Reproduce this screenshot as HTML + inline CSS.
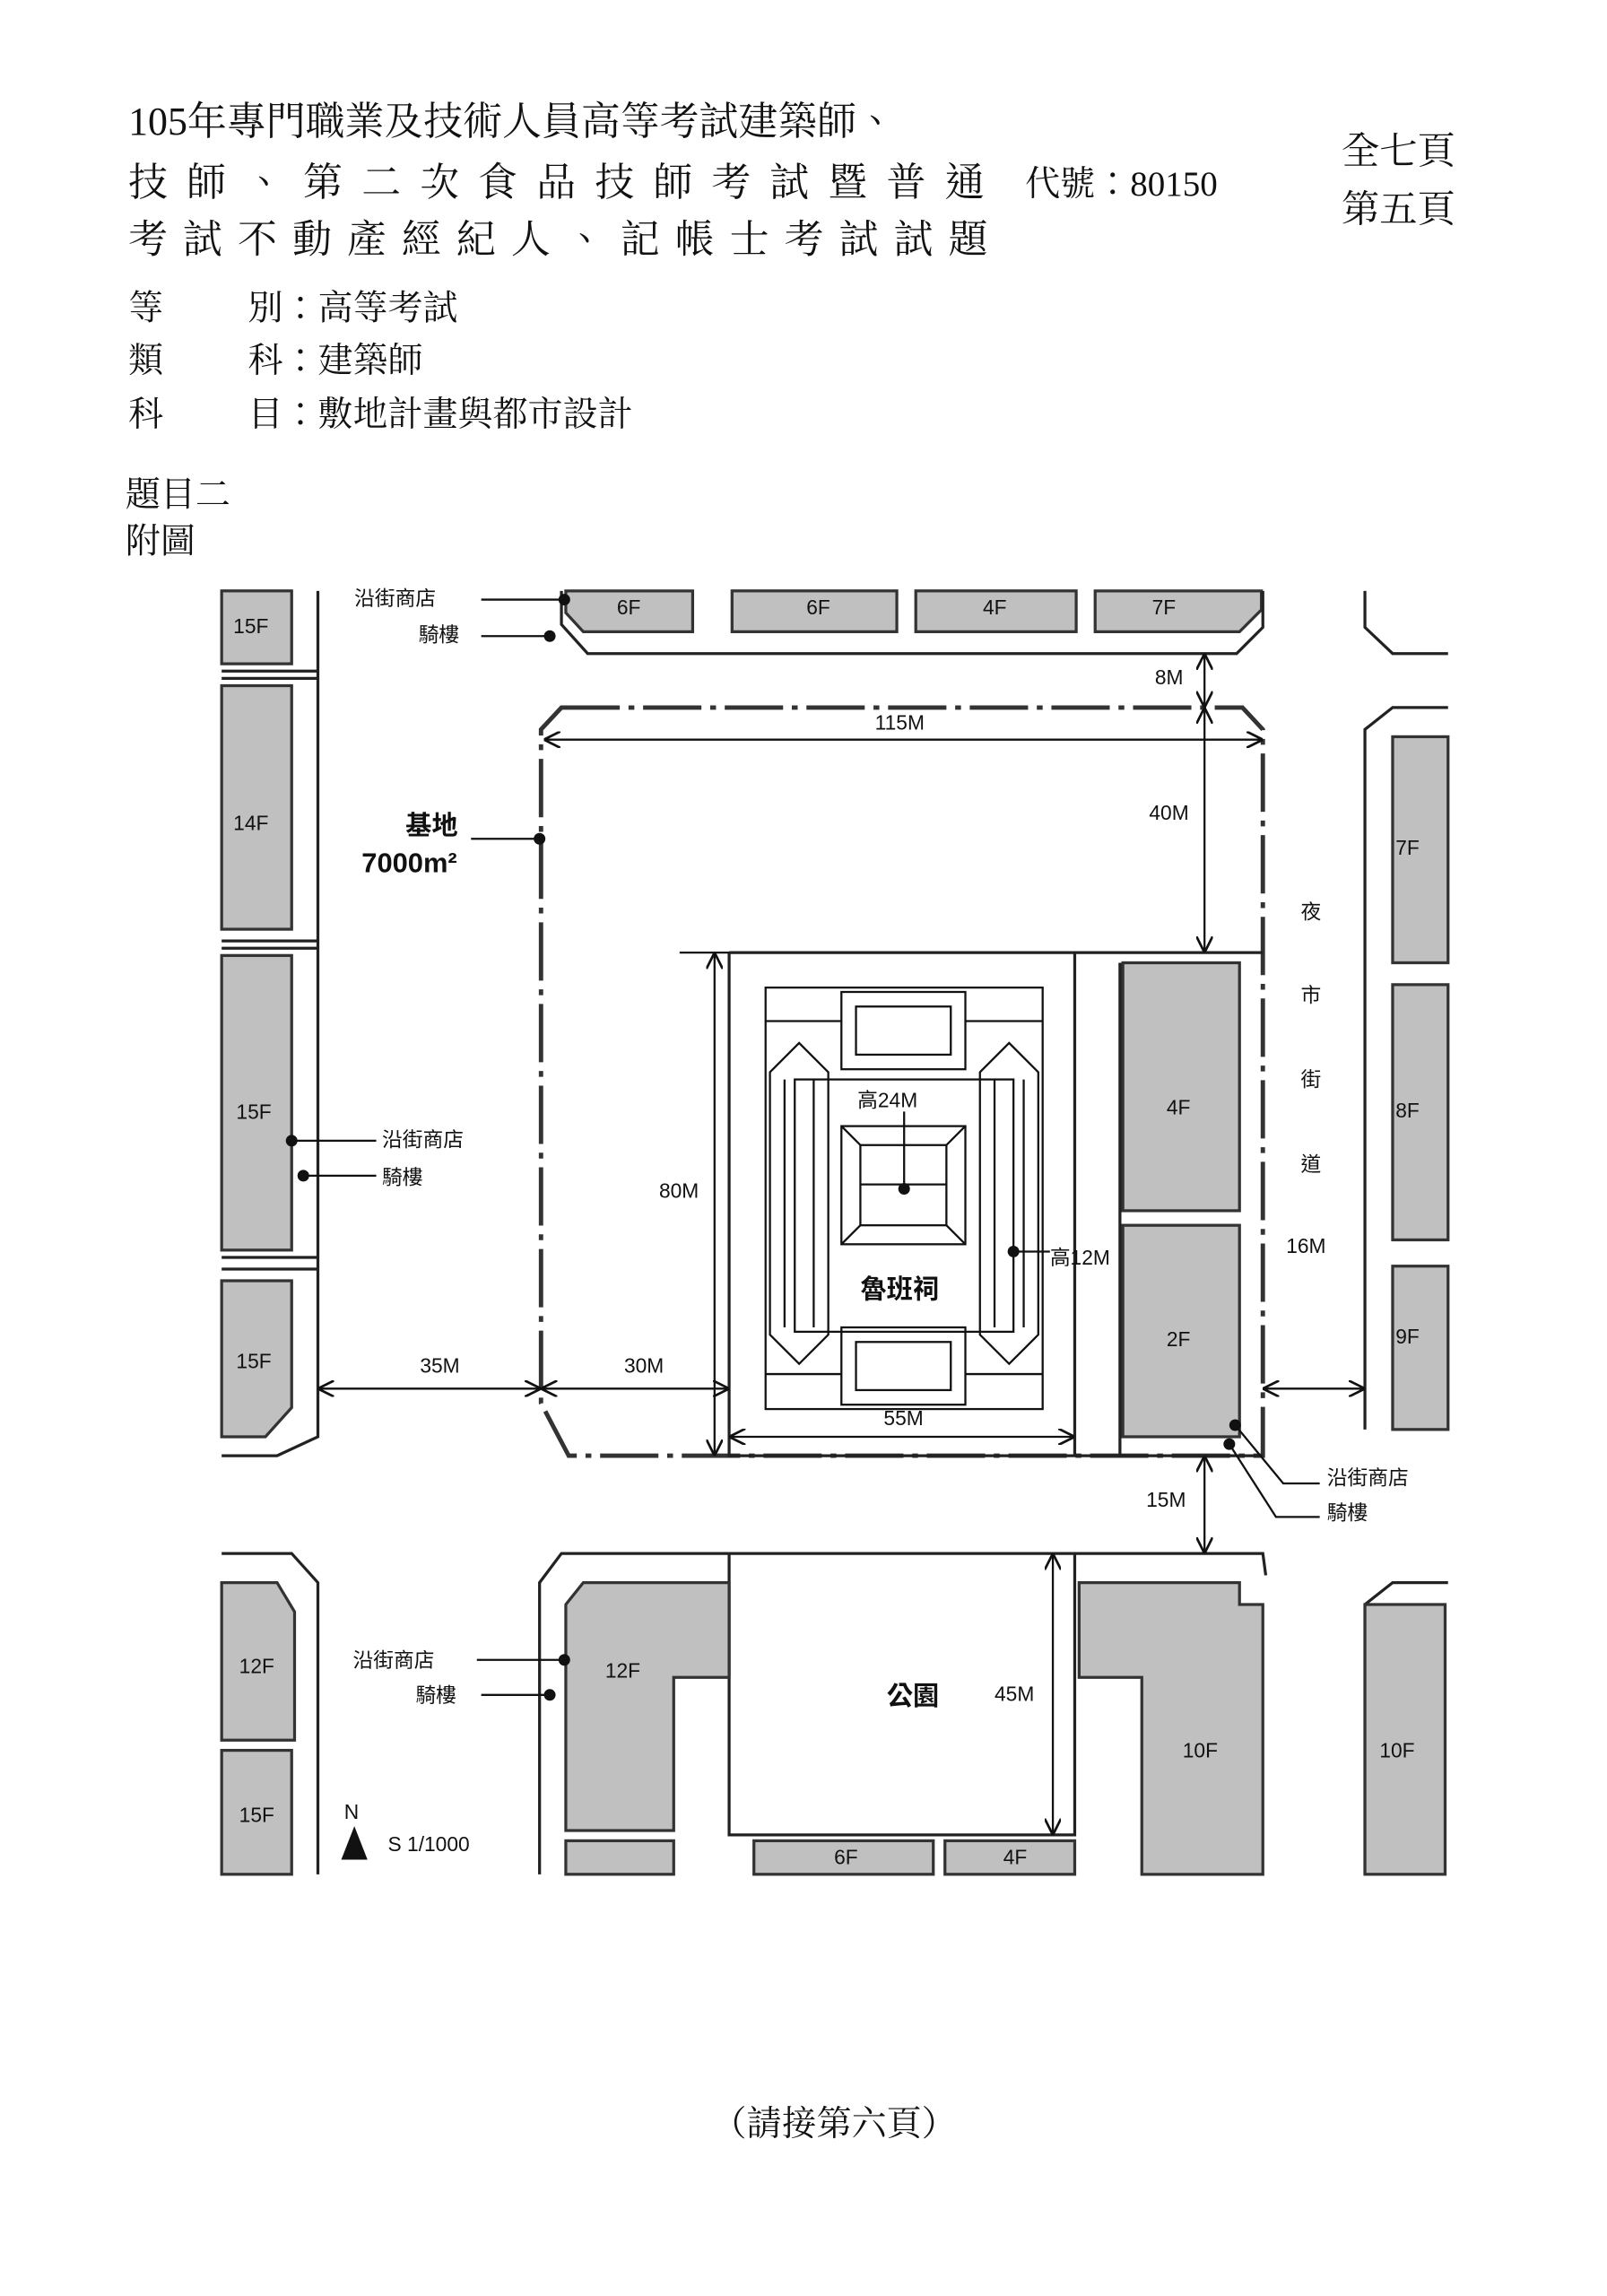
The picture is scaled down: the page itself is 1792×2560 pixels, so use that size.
<!DOCTYPE html>
<html><head><meta charset="utf-8"><style>
html,body{margin:0;padding:0;background:#fff;}
svg{display:block;}
text{font-family:"Liberation Serif","Noto Serif CJK TC","Noto Serif CJK SC",serif;fill:#111;}
.s text{font-family:"Liberation Sans","Noto Sans CJK TC",sans-serif;font-size:14px;}
.s text.b{font-weight:bold;}
.g{fill:#c0c0c0;stroke:#333;stroke-width:2;}
.l{fill:none;stroke:#222;stroke-width:2;}
.d{fill:none;stroke:#333;stroke-width:3;stroke-dasharray:40 6 4 6;}
.t{fill:none;stroke:#111;stroke-width:1.4;}
</style></head><body>
<svg width="1792" height="2560" viewBox="0 0 1102 1574" xmlns="http://www.w3.org/2000/svg">
<defs><marker id="a" viewBox="0 0 10 10" refX="10" refY="5" markerWidth="8" markerHeight="8" orient="auto-start-reverse"><path d="M0,0 L10,5 L0,10" fill="none" stroke="#111" stroke-width="1.5"/></marker></defs>
<g style="font-size:27px">
<text x="88" y="92">105年專門職業及技術人員高等考試建築師、</text>
<text x="88" y="134" letter-spacing="13">技師、第二次食品技師考試暨普通</text>
<text x="703" y="134" style="font-size:24px">代號：80150</text>
<text x="88" y="173" letter-spacing="10.5">考試不動產經紀人、記帳士考試試題</text>
<text x="920" y="112" style="font-size:26px">全七頁</text>
<text x="920" y="152" style="font-size:26px">第五頁</text>
</g>
<g style="font-size:24px">
<text x="88" y="219">等</text><text x="170" y="219">別：高等考試</text>
<text x="88" y="255">類</text><text x="170" y="255">科：建築師</text>
<text x="88" y="292">科</text><text x="170" y="292">目：敷地計畫與都市設計</text>
<text x="86" y="347">題目二</text>
<text x="86" y="379">附圖</text>
<text x="488" y="1464">（請接第六頁）</text>
</g>
<!-- left column buildings -->
<rect class="g" x="152" y="405" width="48" height="50"/>
<rect class="g" x="152" y="470" width="48" height="167"/>
<rect class="g" x="152" y="655" width="48" height="202"/>
<path class="g" d="M152,878 H200 V965 L182,985 H152 Z"/>
<path class="l" d="M218,405 V985 L190,998 H152"/>
<path class="l" d="M152,460 H218 M152,465 H218 M152,645 H218 M152,650 H218 M152,862 H218 M152,870 H218"/>
<!-- top row -->
<path class="g" d="M388,405 H475 V433 H400 L388,420 Z"/>
<rect class="g" x="502" y="405" width="113" height="28"/>
<rect class="g" x="628" y="405" width="110" height="28"/>
<path class="g" d="M751,405 H865 V418 L850,433 H751 Z"/>
<path class="l" d="M385,405 V428 L403,448 H848 L866,430 V405"/>
<path class="l" d="M936,405 V430 L955,448 H993"/>
<!-- site -->
<path class="d" d="M385,485 H852 L866,500 V998 H500 H390 L371,962 V500 Z"/>
<path class="l" d="M500,653 H866 M500,653 V998 H866 M737,653 V998 M768,660 V998"/>
<rect class="g" x="770" y="660" width="80" height="170"/>
<rect class="g" x="770" y="840" width="80" height="145"/>
<!-- temple -->
<g class="t">
<rect x="525" y="677" width="190" height="289"/>
<rect x="545" y="740" width="150" height="173"/>
<rect x="577" y="680" width="85" height="53"/><rect x="587" y="690" width="65" height="33"/>
<rect x="577" y="910" width="85" height="53"/><rect x="587" y="920" width="65" height="33"/>
<path d="M528,735 L548,715 L568,735 V915 L548,935 L528,915 Z M538,740 V910 M558,740 V910"/>
<path d="M672,735 L692,715 L712,735 V915 L692,935 L672,915 Z M682,740 V910 M702,740 V910"/>
<rect x="577" y="772" width="85" height="81"/><rect x="590" y="785" width="59" height="55"/>
<path d="M577,772 L590,785 M662,772 L649,785 M577,853 L590,840 M662,853 L649,840 M590,812 H649 M525,700 H577 M662,700 H715 M525,942 H577 M662,942 H715"/>
</g>
<!-- right column -->
<path class="l" d="M936,1285 V1100 L955,1085 H993 M936,980 V500 L955,485 H993"/>
<rect class="g" x="955" y="505" width="38" height="155"/>
<rect class="g" x="955" y="675" width="38" height="175"/>
<rect class="g" x="955" y="868" width="38" height="112"/>
<rect class="g" x="936" y="1100" width="55" height="185"/>
<!-- bottom row -->
<path class="l" d="M152,1065 H200 L218,1085 V1285"/>
<path class="g" d="M152,1085 H190 L202,1105 V1193 H152 Z"/>
<rect class="g" x="152" y="1200" width="48" height="85"/>
<path class="l" d="M370,1285 V1085 L385,1065 H866 L868,1080 M500,1065 V1258 H737 V1065"/>
<path class="g" d="M388,1100 L400,1085 H500 V1150 H462 V1255 H388 Z"/>
<rect class="g" x="388" y="1262" width="74" height="23"/>
<rect class="g" x="517" y="1262" width="123" height="23"/>
<rect class="g" x="648" y="1262" width="89" height="23"/>
<path class="g" d="M740,1085 H850 V1100 H866 V1285 H783 V1150 H740 Z"/>
<!-- dimensions -->
<g class="t">
<line x1="373" y1="507" x2="866" y2="507" marker-start="url(#a)" marker-end="url(#a)"/>
<line x1="826" y1="448" x2="826" y2="485" marker-start="url(#a)" marker-end="url(#a)"/>
<line x1="826" y1="485" x2="826" y2="653" marker-start="url(#a)" marker-end="url(#a)"/>
<line x1="490" y1="653" x2="490" y2="998" marker-start="url(#a)" marker-end="url(#a)"/>
<line x1="466" y1="653" x2="500" y2="653"/>
<line x1="218" y1="952" x2="371" y2="952" marker-start="url(#a)" marker-end="url(#a)"/>
<line x1="371" y1="952" x2="500" y2="952" marker-start="url(#a)" marker-end="url(#a)"/>
<line x1="500" y1="985" x2="737" y2="985" marker-start="url(#a)" marker-end="url(#a)"/>
<line x1="866" y1="952" x2="936" y2="952" marker-start="url(#a)" marker-end="url(#a)"/>
<line x1="826" y1="998" x2="826" y2="1065" marker-start="url(#a)" marker-end="url(#a)"/>
<line x1="722" y1="1065" x2="722" y2="1258" marker-start="url(#a)" marker-end="url(#a)"/>
<line x1="330" y1="411" x2="387" y2="411"/><line x1="330" y1="436" x2="377" y2="436"/>
<line x1="200" y1="782" x2="258" y2="782"/><line x1="208" y1="806" x2="258" y2="806"/>
<line x1="323" y1="575" x2="370" y2="575"/>
<line x1="620" y1="762" x2="620" y2="815"/><line x1="695" y1="858" x2="720" y2="858"/>
<path d="M847,977 L880,1017 H905 M843,990 L875,1040 H905"/>
<line x1="327" y1="1138" x2="387" y2="1138"/><line x1="330" y1="1162" x2="377" y2="1162"/>
</g>
<g fill="#111">
<circle cx="387" cy="411" r="4"/><circle cx="377" cy="436" r="4"/>
<circle cx="200" cy="782" r="4"/><circle cx="208" cy="806" r="4"/>
<circle cx="370" cy="575" r="4"/><circle cx="620" cy="815" r="4"/><circle cx="695" cy="858" r="4"/>
<circle cx="847" cy="977" r="4"/><circle cx="843" cy="990" r="4"/>
<circle cx="387" cy="1138" r="4"/><circle cx="377" cy="1162" r="4"/>
<path d="M234,1275 L243,1252 L252,1275 Z"/>
</g>
<g class="s">
<text x="160" y="434">15F</text><text x="160" y="569">14F</text><text x="162" y="767">15F</text><text x="162" y="938">15F</text>
<text x="423" y="421">6F</text><text x="553" y="421">6F</text><text x="674" y="421">4F</text><text x="790" y="421">7F</text>
<text x="800" y="764">4F</text><text x="800" y="923">2F</text>
<text x="957" y="586">7F</text><text x="957" y="766">8F</text><text x="957" y="921">9F</text>
<text x="164" y="1147">12F</text><text x="164" y="1249">15F</text><text x="415" y="1150">12F</text>
<text x="811" y="1205">10F</text><text x="946" y="1205">10F</text>
<text x="572" y="1278">6F</text><text x="688" y="1278">4F</text>
<text x="600" y="500">115M</text><text x="792" y="469">8M</text><text x="788" y="562">40M</text>
<text x="452" y="821">80M</text><text x="288" y="941">35M</text><text x="428" y="941">30M</text>
<text x="606" y="977">55M</text><text x="882" y="859">16M</text><text x="786" y="1033">15M</text><text x="682" y="1166">45M</text>
<text x="588" y="759">高24M</text><text x="720" y="867">高12M</text>
<text x="243" y="415">沿街商店</text><text x="287" y="440">騎樓</text>
<text x="262" y="786">沿街商店</text><text x="262" y="812">騎樓</text>
<text x="910" y="1018">沿街商店</text><text x="910" y="1042">騎樓</text>
<text x="242" y="1143">沿街商店</text><text x="285" y="1167">騎樓</text>
<text x="892" y="630">夜</text><text x="892" y="687">市</text><text x="892" y="745">街</text><text x="892" y="803">道</text>
<text x="236" y="1247">N</text><text x="266" y="1269">S 1/1000</text>
<text x="278" y="572" class="b" style="font-size:18px">基地</text>
<text x="248" y="598" class="b" style="font-size:19px">7000m²</text>
<text x="590" y="890" class="b" style="font-size:18px">魯班祠</text>
<text x="608" y="1169" class="b" style="font-size:18px">公園</text>
</g>
</svg>
</body></html>
